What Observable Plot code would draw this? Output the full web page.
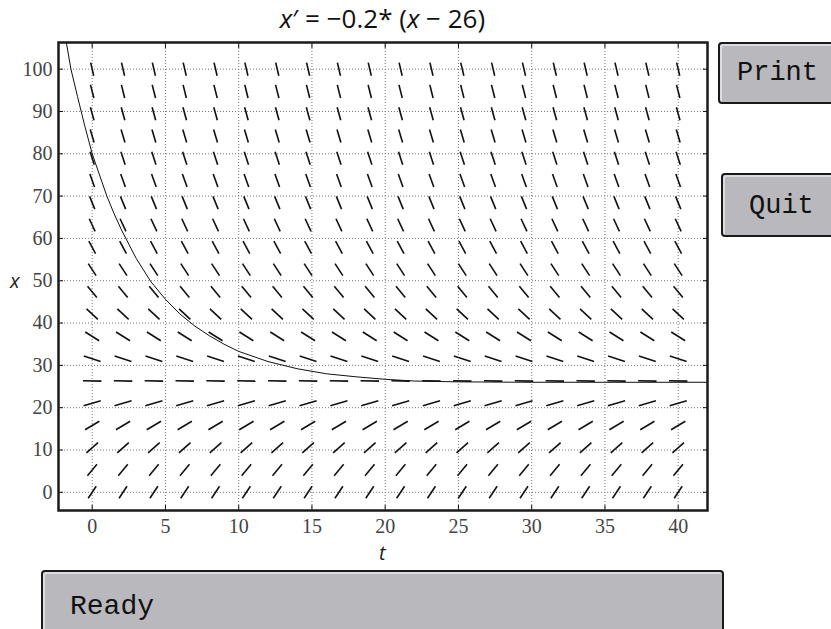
<!DOCTYPE html>
<html>
<head>
<meta charset="utf-8">
<script src="https://cdn.jsdelivr.net/npm/d3@7"></script>
<script src="https://cdn.jsdelivr.net/npm/@observablehq/plot@0.6"></script>
<style>
  body { margin: 0; background: #fff; width: 831px; height: 629px; overflow: hidden; position: relative; }
  #chart { position: absolute; left: 0; top: 0; }
  .title { position: absolute; left: 0; width: 765px; top: 0px; text-align: center; font-family: "Open Sans", sans-serif; font-size: 26px; color: #111; }
  .lab { position: absolute; font-family: "Open Sans", sans-serif; font-style: italic; font-size: 20px; color: #222; }
  .btn { position: absolute; background: #b9b9bd; border: 2px solid #1a1a1a; border-radius: 4px; box-shadow: inset 2px 2px 0 #dcdcde; font-family: "Liberation Mono", monospace; color: #111; box-sizing: border-box; }
</style>
</head>
<body>
<div id="chart"></div>
<div class="title"><i>x</i>′ = −0.2* (<i>x</i> − 26)</div>
<div class="lab" style="left:10px; top:267px;">x</div>
<div class="lab" style="left:379px; top:539px;">t</div>
<div class="btn" style="left:718px; top:42px; width:140px; height:62px; font-size:27px; line-height:58px; padding-left:17px;">Print</div>
<div class="btn" style="left:721px; top:173px; width:140px; height:64px; font-size:27px; line-height:62px; padding-left:26px;">Quit</div>
<div class="btn" style="left:41px; top:570px; width:683px; height:80px; font-size:28px; line-height:70px; padding-left:27px;">Ready</div>
<script>
// grid of the direction field (20 x 20, linspace)
const tGrid = [0, 2.105, 4.211, 6.316, 8.421, 10.526, 12.632, 14.737, 16.842, 18.947,
               21.053, 23.158, 25.263, 27.368, 29.474, 31.579, 33.684, 35.789, 37.895, 40];
const xGrid = [0, 5.263, 10.526, 15.789, 21.053, 26.316, 31.579, 36.842, 42.105, 47.368,
               52.632, 57.895, 63.158, 68.421, 73.684, 78.947, 84.211, 89.474, 94.737, 100];
// slope x' at each row of the grid
const rowSlopes = [5.2, 4.147, 3.095, 2.042, 0.989, -0.063, -1.116, -2.168, -3.221, -4.274,
                   -5.326, -6.379, -7.432, -8.484, -9.537, -10.589, -11.642, -12.695, -13.747, -14.8];
// solution curve
const curveT = [-1.8, -1.45, -1.0, -0.5, 0, 0.5, 1, 1.5, 2, 3, 4, 5, 6, 7, 8, 9, 10, 12, 14, 16, 18, 20, 22, 25, 30, 35, 42];
const curveX = [107, 100, 93.5, 86.5, 80, 75, 70, 65.8, 62, 55.3, 49.8, 45.6, 42.1, 39.3, 37, 35, 33.3, 30.9, 29.2, 28, 27.3, 26.7, 26.3, 26.1, 26, 26, 26];
const xTicks = [0, 5, 10, 15, 20, 25, 30, 35, 40];
const yTicks = [0, 10, 20, 30, 40, 50, 60, 70, 80, 90, 100];

const tDomain = [-2.3, 42];
const xDomain = [-4.3, 106.3];
const Tr = tDomain[1] - tDomain[0], Xr = xDomain[1] - xDomain[0];
const half = 0.0142;

const field = [];
xGrid.forEach((x, i) => {
  const m = rowSlopes[i];
  const a = 1 / Tr, b = m / Xr, n = Math.hypot(a, b);
  const dt = half * (a / n) * Tr, dx = half * (b / n) * Xr;
  tGrid.forEach(t => field.push({t1: t - dt, x1: x - dx, t2: t + dt, x2: x + dx}));
});
const curve = curveT.map((t, i) => ({t, x: curveX[i]}));

const blank = () => "";
const plot = Plot.plot({
  width: 720,
  height: 570,
  marginLeft: 58,
  marginRight: 13,
  marginTop: 42,
  marginBottom: 60,
  style: {fontFamily: "Liberation Serif, serif", fontSize: "20px", color: "#444", background: "transparent"},
  x: {domain: tDomain},
  y: {domain: xDomain},
  marks: [
    Plot.gridX(xTicks, {stroke: "#777", strokeOpacity: 1, strokeDasharray: "1,2"}),
    Plot.gridY(yTicks, {stroke: "#777", strokeOpacity: 1, strokeDasharray: "1,2"}),
    Plot.link(field, {x1: "t1", y1: "x1", x2: "t2", y2: "x2", stroke: "#111", strokeWidth: 1.6}),
    Plot.line(curve, {x: "t", y: "x", stroke: "#111", strokeWidth: 1, clip: true}),
    Plot.axisX(xTicks, {tickSize: 0, tickPadding: 8, label: null, fontSize: 20, fill: "#444"}),
    Plot.axisY(yTicks, {tickSize: 0, tickPadding: 6, label: null, fontSize: 20, fill: "#444"}),
    Plot.axisX(xTicks, {anchor: "bottom", tickSize: -5, tickFormat: blank, label: null, stroke: "#111"}),
    Plot.axisX(xTicks, {anchor: "top", tickSize: -5, tickFormat: blank, label: null, stroke: "#111"}),
    Plot.axisY(yTicks, {anchor: "left", tickSize: -5, tickFormat: blank, label: null, stroke: "#111"}),
    Plot.axisY(yTicks, {anchor: "right", tickSize: -5, tickFormat: blank, label: null, stroke: "#111"}),
    Plot.frame({stroke: "#1a1a1a", strokeWidth: 2.5})
  ]
});
document.getElementById("chart").appendChild(plot);
</script>
</body>
</html>
